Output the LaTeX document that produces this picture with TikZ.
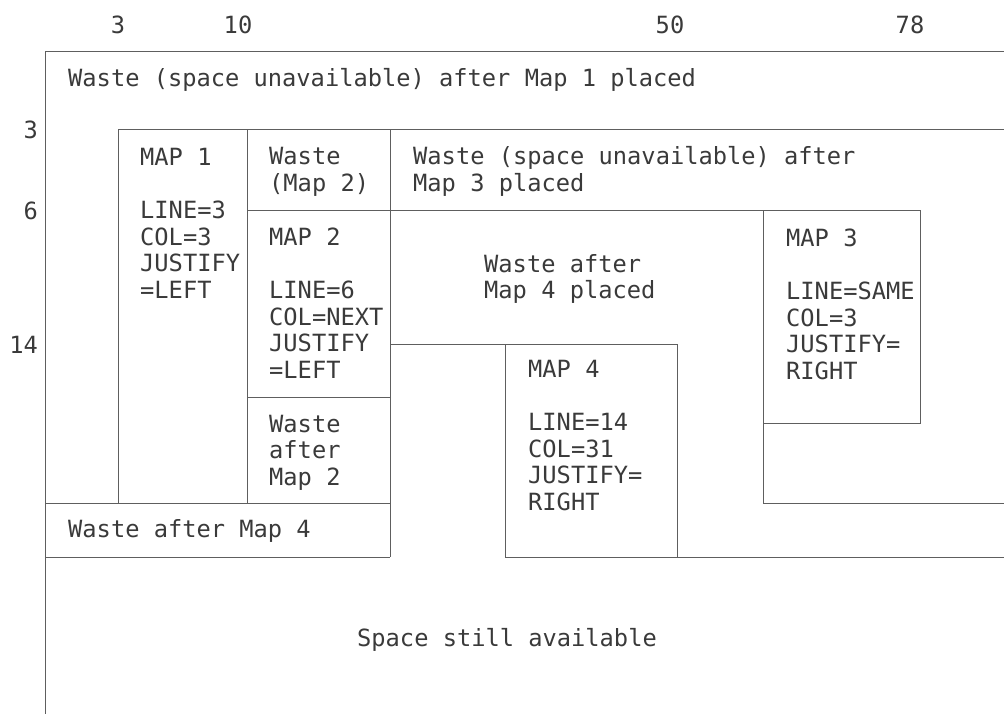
\documentclass[tikz,border=0pt]{standalone}
\usepackage{fontspec}
\setmonofont{DejaVu Sans Mono}
\usepackage{tikz}
\definecolor{PlanInk}{HTML}{3A3A3A}
\definecolor{PlanRule}{HTML}{5E5E5E}

\begin{document}
\begin{tikzpicture}[x=1pt,y=-1pt]
  \tikzset{
    rule/.style={draw=PlanRule,line width=1pt},
    txt/.style={inner sep=0pt,anchor=base west,align=left,text=PlanInk,
      font=\ttfamily\fontsize{23.7}{26.7}\selectfont},
    colnum/.style={txt,anchor=base,align=center},
    rownum/.style={txt,anchor=base east,align=right}
  }
  \useasboundingbox (0,0) rectangle (1004,714);
  % ruler numbers
  \node[colnum] (c3) at (118,34) {3};
  \node[colnum] (c10) at (238,34) {10};
  \node[colnum] (c50) at (670,34) {50};
  \node[colnum] (c78) at (910,34) {78};
  \node[rownum] (r3) at (38,139) {3};
  \node[rownum] (r6) at (38,220) {6};
  \node[rownum] (r14) at (38,353) {14};
  % outlines of maps and waste
  \draw[rule] (45,714) -- (45,52) -- (1004,52);
  \draw[rule] (118,503) -- (118,130) -- (1004,130);
  \draw[rule] (247,130) -- (247,503);
  \draw[rule] (390,130) -- (390,557);
  \draw[rule] (247,211) -- (920,211) -- (920,423) -- (763,423);
  \draw[rule] (763,211) -- (763,503) -- (1004,503);
  \draw[rule] (247,397) -- (390,397);
  \draw[rule] (45,503) -- (390,503);
  \draw[rule] (45,557) -- (390,557);
  \draw[rule] (390,344) -- (677,344) -- (677,557) -- (1004,557);
  \draw[rule] (505,344) -- (505,557) -- (677,557);
  % texts (base = baseline of the last line)
  \node[txt] (wmapone) at (68,87) {Waste (space unavailable) after Map 1 placed};
  \node[txt] (mapone) at (140,298.5) {MAP 1\\[26.7pt]LINE=3\\COL=3\\JUSTIFY\\=LEFT};
  \node[txt] (wmaptwo) at (269,191.7) {Waste\\(Map 2)};
  \node[txt] (wmapthree) at (413,191.7) {Waste (space unavailable) after\\Map 3 placed};
  \node[txt] (maptwo) at (269,378.5) {MAP 2\\[26.7pt]LINE=6\\COL=NEXT\\JUSTIFY\\=LEFT};
  \node[txt] (wmapfour) at (484,298.7) {Waste after\\Map 4 placed};
  \node[txt] (mapthree) at (786,379.5) {MAP 3\\[26.7pt]LINE=SAME\\COL=3\\JUSTIFY=\\RIGHT};
  \node[txt] (mapfour) at (528,510.5) {MAP 4\\[26.7pt]LINE=14\\COL=31\\JUSTIFY=\\RIGHT};
  \node[txt] (waftmaptwo) at (269,485.4) {Waste\\after\\Map 2};
  \node[txt] (waftmapfour) at (68,537) {Waste after Map 4};
  \node[txt,anchor=base] (avail) at (507,646) {Space still available};
\end{tikzpicture}
\end{document}
